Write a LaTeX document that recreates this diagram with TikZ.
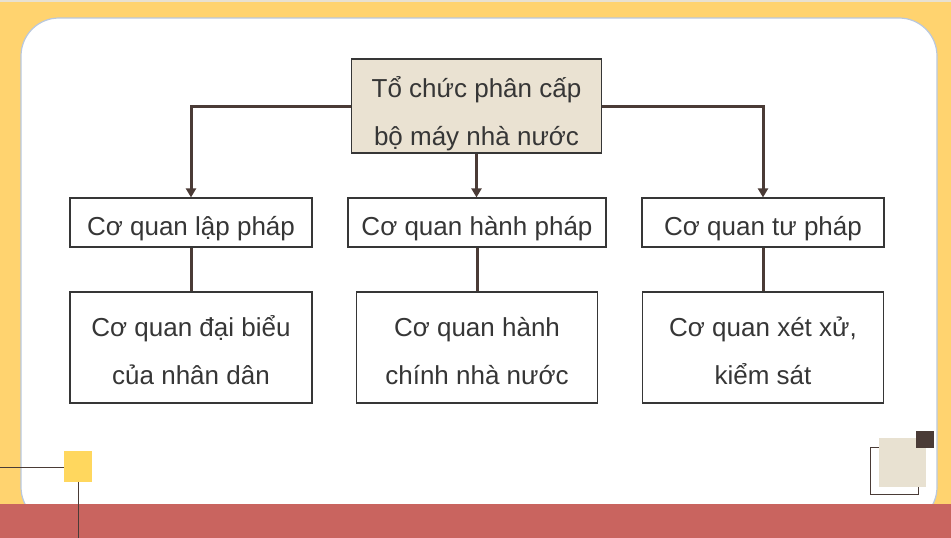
\documentclass[tikz,border=0pt]{standalone}
\usepackage{fontspec}
\setmainfont{Liberation Sans}
\usetikzlibrary{arrows.meta}
\definecolor{bgyellow}{HTML}{FFD36F}
\definecolor{redband}{HTML}{C9645F}
\definecolor{beige}{HTML}{EAE2D2}
\definecolor{beigedeco}{HTML}{E8E1D1}
\definecolor{darkbrown}{HTML}{4A3B36}
\definecolor{txt}{HTML}{363636}
\definecolor{frameblue}{HTML}{B9C8DE}
\definecolor{sqyellow}{HTML}{FFD75E}
\tikzset{
  box/.style={draw=txt, line width=1.2pt, fill=white, inner sep=0pt},
  lbl/.style={text=txt, inner sep=0pt, anchor=base, font=\fontsize{26}{30}\selectfont},
  conn/.style={draw=darkbrown, line width=3pt},
  arr/.style={conn, -{Triangle[length=9pt,width=10pt]}},
  thinline/.style={draw=darkbrown, line width=1pt}
}
\begin{document}
\begin{tikzpicture}[x=1pt,y=-1pt]
\useasboundingbox (0,0) rectangle (951,538);
% background
\fill[bgyellow] (0,0) rectangle (951,538);
\fill[beigedeco] (0,0) rectangle (951,2);
\fill[white, draw=frameblue, line width=1.2pt, rounded corners=38pt] (21,18) rectangle (937,525);
\fill[redband] (0,504) rectangle (951,538);
% left decoration
\draw[thinline] (0,467) -- (64,467);
\draw[thinline] (78,482) -- (78,538);
\fill[sqyellow] (64,451) rectangle (92,482);
% right decoration
\draw[thinline] (870,447) rectangle (918,494);
\fill[beigedeco] (879,438) rectangle (926,487);
\fill[darkbrown] (916,431) rectangle (934,448);
% boxes
\node[box, fill=beige, minimum width=250pt, minimum height=94pt] (top) at (476.5,106) {};
\node[box, minimum width=242pt, minimum height=49pt] (ml) at (191,222.5) {};
\node[box, minimum width=258pt, minimum height=49pt] (mc) at (477,222.5) {};
\node[box, minimum width=242pt, minimum height=49pt] (mr) at (763,222.5) {};
\node[box, minimum width=242pt, minimum height=111pt] (bl) at (191,347.5) {};
\node[box, minimum width=241pt, minimum height=111pt] (bc) at (477,347.5) {};
\node[box, minimum width=241pt, minimum height=111pt] (br) at (763,347.5) {};
% texts
\node[lbl] (t1) at (476.5,97) {Tổ chức phân cấp};
\node[lbl] (t2) at (476.5,145) {bộ máy nhà nước};
\node[lbl] (tml) at (191,235) {Cơ quan lập pháp};
\node[lbl] (tmc) at (477,235) {Cơ quan hành pháp};
\node[lbl] (tmr) at (763,235) {Cơ quan tư pháp};
\node[lbl] (tbl1) at (191,336) {Cơ quan đại biểu};
\node[lbl] (tbl2) at (191,384) {của nhân dân};
\node[lbl] (tbc1) at (477,336) {Cơ quan hành};
\node[lbl] (tbc2) at (477,384) {chính nhà nước};
\node[lbl] (tbr1) at (763,336) {Cơ quan xét xử,};
\node[lbl] (tbr2) at (763,384) {kiểm sát};
% connectors
\draw[arr] (top.west) -| (ml.north);
\draw[arr] (top.east) -| (mr.north);
\draw[arr] (top.south) -- (top.south |- mc.north);
\draw[conn] (ml.south) -- (bl.north);
\draw[conn] (mc.south) -- (bc.north);
\draw[conn] (mr.south) -- (br.north);
\end{tikzpicture}
\end{document}
